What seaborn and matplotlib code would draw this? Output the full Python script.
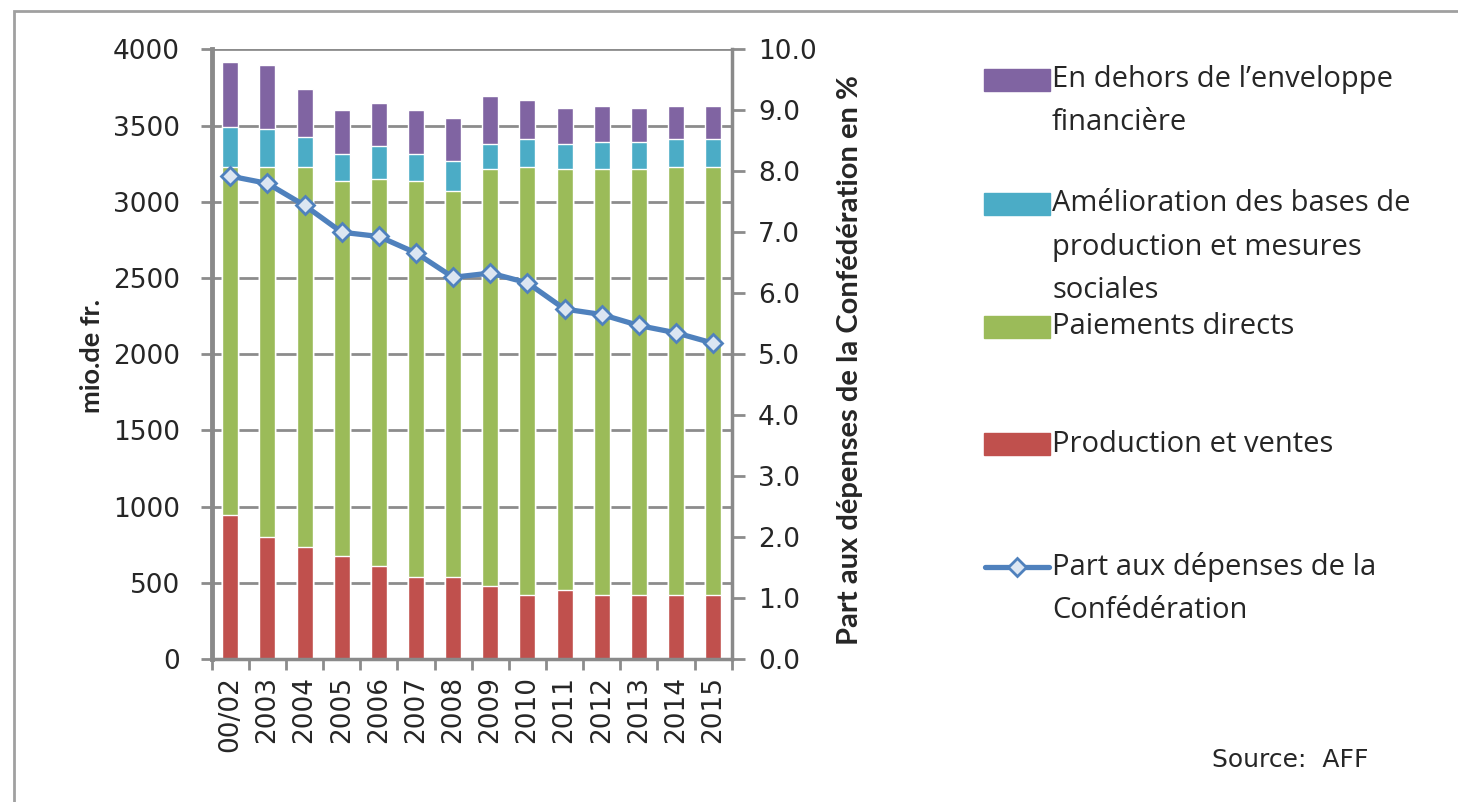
import numpy as np
import matplotlib
matplotlib.use("Agg")
import matplotlib.pyplot as plt
from matplotlib.patches import Rectangle
from matplotlib.lines import Line2D
import seaborn as sns

# data (mio. de fr. / %)
years = ["00/02", "2003", "2004", "2005", "2006", "2007", "2008",
         "2009", "2010", "2011", "2012", "2013", "2014", "2015"]
production = [944, 799, 738, 677, 613, 541, 541, 479, 418, 451, 418, 418, 418, 418]
paiements = [2285, 2430, 2491, 2460, 2537, 2596, 2529, 2737, 2811, 2765, 2798, 2798, 2811, 2811]
amelioration = [261, 245, 195, 173, 215, 173, 196, 160, 180, 160, 175, 175, 180, 180]
hors_enveloppe = [427, 425, 318, 289, 280, 289, 283, 317, 256, 241, 237, 226, 219, 219]
part_conf = [7.92, 7.80, 7.44, 7.00, 6.93, 6.66, 6.26, 6.33, 6.17, 5.74, 5.65, 5.47, 5.35, 5.18]

series_names = ["Production et ventes", "Paiements directs",
                "Amélioration des bases de production et mesures sociales",
                "En dehors de l'enveloppe financière"]
series_colors = ["#C0504D", "#9BBB59", "#4BACC6", "#8064A2"]
line_color = "#4F81BD"
grid_gray = "#8c8c8c"

sns.set_style("white")
plt.rcParams["font.family"] = ["DejaVu Sans"]

W, H = 1458, 802
fig = plt.figure(figsize=(W / 100, H / 100), dpi=100)

def fx(px):
    return px / W

def fy(py):
    return 1 - py / H

ax = fig.add_axes([fx(211.7), fy(659), fx(731.7) - fx(211.7), fy(49.3) - fy(659)])

# stacked bars: draw cumulative totals from the top layer down
layers = np.array([production, paiements, amelioration, hors_enveloppe])
cum = np.cumsum(layers, axis=0)
for i in range(3, -1, -1):
    sns.barplot(x=years, y=cum[i], color=series_colors[i], width=0.43,
                saturation=1, errorbar=None, ax=ax, zorder=2)

ax.set_ylim(0, 4000)
ax.set_xlim(-0.5, len(years) - 0.5)
ax.set_yticks(np.arange(0, 4001, 500))
ax.set_axisbelow(True)
ax.yaxis.grid(True, color=grid_gray, lw=2)
ax.xaxis.grid(False)
ax.set_xlabel("")
ax.set_ylabel("")

for s in ["top", "right"]:
    ax.spines[s].set_visible(False)
ax.spines["left"].set_color("#8a8a8a")
ax.spines["left"].set_linewidth(3.5)
ax.spines["bottom"].set_color("#8a8a8a")
ax.spines["bottom"].set_linewidth(2.5)

ax.tick_params(axis="y", direction="out", length=8, width=2, color=grid_gray,
               labelsize=19, pad=15, left=True)
ax.set_xticks(np.arange(len(years)))
ax.set_xticklabels(years, rotation=90, fontsize=19)
ax.tick_params(axis="x", which="major", length=0, pad=12)
ax.set_xticks(np.arange(-0.5, len(years)), minor=True)
ax.tick_params(axis="x", which="minor", direction="out", length=8, width=2,
               color=grid_gray, bottom=True)

# share of federal spending, right axis
ax2 = ax.twinx()
sns.lineplot(x=np.arange(len(years)), y=part_conf, ax=ax2, color=line_color,
             lw=3.8, marker="D", markersize=9, markerfacecolor="#dce6f2",
             markeredgecolor=line_color, markeredgewidth=2, zorder=5)
ax2.set_ylim(0, 10)
ax2.set_yticks(np.arange(0, 10.1, 1))
ax2.set_yticklabels([f"{v:.1f}" for v in np.arange(0, 10.1, 1)])
ax2.set_xlim(-0.5, len(years) - 0.5)
ax2.set_ylabel("")
for s in ["top", "left", "bottom"]:
    ax2.spines[s].set_visible(False)
ax2.spines["right"].set_color("#8a8a8a")
ax2.spines["right"].set_linewidth(2.5)
ax2.tick_params(axis="y", direction="out", length=9, width=2, color=grid_gray,
                labelsize=19, pad=10, right=True)

fig.text(fx(92), fy(356), "mio.de fr.", rotation=90, ha="center", va="center",
         fontsize=19.5, fontweight="bold", family="Lato")
fig.text(fx(850), fy(360), "Part aux dépenses de la Confédération en %", rotation=90,
         ha="center", va="center", fontsize=21, fontweight="bold", family="Lato")

# legend, drawn by hand to keep the uneven spacing of the original
legend_rows = [
    (3, 80, ["En dehors de l\u2019enveloppe", "financière"]),
    (2, 204, ["Amélioration des bases de", "production et mesures", "sociales"]),
    (1, 327, ["Paiements directs"]),
    (0, 444, ["Production et ventes"]),
]
line_gap = 43
for idx, yc, lines in legend_rows:
    fig.add_artist(Rectangle((fx(984), fy(yc + 11)), fx(66), fy(yc - 11) - fy(yc + 11),
                             transform=fig.transFigure, color=series_colors[idx]))
    for k, t in enumerate(lines):
        fig.text(fx(1052), fy(yc + k * line_gap), t, ha="left", va="center",
                 fontsize=21, family="Open Sans")

yl = 567
fig.add_artist(Line2D([fx(985), fx(1049)], [fy(yl), fy(yl)], transform=fig.transFigure,
                      color=line_color, lw=3.8))
fig.add_artist(Line2D([fx(1017)], [fy(yl)], transform=fig.transFigure, marker="D",
                      markersize=9, markerfacecolor="#dce6f2", markeredgecolor=line_color,
                      markeredgewidth=2))
for k, t in enumerate(["Part aux dépenses de la", "Confédération"]):
    fig.text(fx(1052), fy(yl + k * line_gap), t, ha="left", va="center",
             fontsize=21, family="Open Sans")

fig.text(fx(1212), fy(760), "Source:  AFF", ha="left", va="center", fontsize=18)

# grey frame round the chart
fig.add_artist(Rectangle((fx(14), fy(806)), fx(1460) - fx(14), fy(11) - fy(806),
                         transform=fig.transFigure, fill=False, edgecolor="#a0a0a0", lw=2))

fig.savefig("out.png", dpi=100)
